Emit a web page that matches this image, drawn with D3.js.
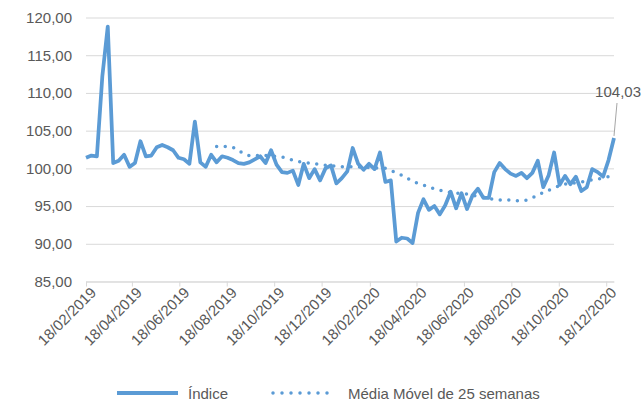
<!DOCTYPE html>
<html>
<head>
<meta charset="utf-8">
<script src="https://cdn.jsdelivr.net/npm/d3@7"></script>
<style>
  body { margin: 0; background: #fff; }
  text { font-family: "Liberation Sans", Arial, sans-serif; fill: #595959; }
</style>
</head>
<body>
<svg id="chart" width="643" height="402"></svg>
<script>
// weekly observations, first and last week
const firstWeek = '18/02/2019';
const lastWeek = '28/12/2020';

const indice = [
  101.4, 101.7, 101.6, 112.2, 118.8, 100.7, 101.0, 101.8, 100.2, 100.7,
  103.6, 101.6, 101.7, 102.8, 103.1, 102.8, 102.4, 101.4, 101.2, 100.6,
  106.2, 100.8, 100.2, 101.8, 100.8, 101.6, 101.4, 101.1, 100.7, 100.6,
  100.8, 101.2, 101.6, 100.7, 102.4, 100.5, 99.5, 99.4, 99.7, 97.8,
  100.6, 98.7, 99.9, 98.4, 100.0, 100.4, 98.0, 98.7, 99.6, 102.7,
  100.6, 99.8, 100.6, 99.9, 102.1, 98.2, 98.4, 90.3, 90.8, 90.7,
  90.1, 94.1, 95.9, 94.5, 95.0, 93.9, 95.1, 96.9, 94.7, 96.7,
  94.6, 96.4, 97.3, 96.1, 96.1, 99.5, 100.7, 99.9, 99.3, 99.0,
  99.4, 98.7, 99.4, 101.0, 97.5, 99.1, 102.1, 97.8, 99.0, 97.9,
  98.9, 97.0, 97.5, 99.9, 99.5, 98.9, 101.1, 104.03
];

// 25-week moving average, starts at week 25
const mediaMovel = [
  null, null, null, null, null, null, null, null, null, null,
  null, null, null, null, null, null, null, null, null, null,
  null, null, null, null, 102.9, 102.9, 102.9, 102.8, 102.4, 101.9,
  101.7, 101.7, 101.7, 101.7, 101.6, 101.6, 101.5, 101.3, 101.1, 100.9,
  100.8, 100.7, 100.6, 100.5, 100.4, 100.3, 100.3, 100.2, 100.2, 100.2,
  100.2, 100.1, 100.1, 100.1, 100.0, 100.0, 99.7, 99.4, 99.1, 98.7,
  98.3, 98.0, 97.8, 97.5, 97.3, 97.1, 97.0, 96.8, 96.7, 96.7,
  96.6, 96.4, 96.3, 96.2, 96.0, 95.9, 95.8, 95.8, 95.8, 95.7,
  95.7, 95.8, 96.1, 96.4, 96.8, 97.1, 97.4, 97.7, 97.9, 98.0,
  98.1, 98.2, 98.3, 98.5, 98.6, 98.7, 98.9, 99.0
];

const xTickLabels = [
  '18/02/2019', '18/04/2019', '18/06/2019', '18/08/2019', '18/10/2019', '18/12/2019',
  '18/02/2020', '18/04/2020', '18/06/2020', '18/08/2020', '18/10/2020', '18/12/2020'
];
const yTicks = [85, 90, 95, 100, 105, 110, 115, 120];

const parse = d3.timeParse('%d/%m/%Y');
const weeks = d3.timeDay.range(parse(firstWeek), d3.timeDay.offset(parse(lastWeek), 1), 7);

const ptBR = d3.formatLocale({ decimal: ',', thousands: '.', grouping: [3], currency: ['', ''] });
const fmt = ptBR.format('.2f');

const svg = d3.select('#chart');
const plotLeft = 86, plotRight = 614, plotTop = 17.5, plotBottom = 281.5;

const x = d3.scaleTime()
  .domain([parse(firstWeek), parse(lastWeek)])
  .range([plotLeft, plotRight]);
const y = d3.scaleLinear()
  .domain([85, 120])
  .range([plotBottom, plotTop]);

// horizontal grid
svg.append('g')
  .attr('transform', `translate(${plotLeft},0)`)
  .call(d3.axisRight(y).tickValues(yTicks).tickSize(plotRight - plotLeft).tickFormat(''))
  .call(g => g.select('.domain').remove())
  .call(g => g.selectAll('line').attr('stroke', '#d9d9d9').attr('stroke-width', 1));

// y labels
svg.append('g')
  .attr('transform', `translate(${plotLeft},0)`)
  .call(d3.axisLeft(y).tickValues(yTicks).tickSize(0).tickPadding(14).tickFormat(fmt))
  .call(g => g.select('.domain').remove())
  .call(g => g.selectAll('text').attr('font-size', 15).attr('fill', '#595959'));

// x axis
const xAxis = svg.append('g')
  .attr('transform', `translate(0,${plotBottom})`)
  .call(d3.axisBottom(x).tickValues(xTickLabels.map(parse)).tickSize(5).tickSizeOuter(0)
    .tickFormat(d3.timeFormat('%d/%m/%Y')));
xAxis.select('.domain').attr('stroke', '#d9d9d9');
xAxis.selectAll('line').attr('stroke', '#d9d9d9');
xAxis.selectAll('text')
  .attr('font-size', 15)
  .attr('fill', '#595959')
  .attr('text-anchor', 'end')
  .attr('transform', 'rotate(-45)')
  .attr('dx', '-1')
  .attr('dy', '8');

const line = d3.line()
  .defined(d => d[1] != null)
  .x(d => x(d[0]))
  .y(d => y(d[1]));

svg.append('path')
  .datum(weeks.map((w, i) => [w, indice[i]]))
  .attr('fill', 'none')
  .attr('stroke', '#5b9bd5')
  .attr('stroke-width', 3.75)
  .attr('stroke-linejoin', 'round')
  .attr('d', line);

svg.append('path')
  .datum(weeks.map((w, i) => [w, mediaMovel[i]]))
  .attr('fill', 'none')
  .attr('stroke', '#5b9bd5')
  .attr('stroke-width', 3.5)
  .attr('stroke-linecap', 'round')
  .attr('stroke-dasharray', '0 8.6')
  .attr('d', line);

// data label on the last point
const lastX = x(weeks[weeks.length - 1]);
const lastY = y(indice[indice.length - 1]);
svg.append('line')
  .attr('x1', lastX).attr('y1', lastY - 2)
  .attr('x2', lastX + 3).attr('y2', 103)
  .attr('stroke', '#a6a6a6').attr('stroke-width', 1);
svg.append('text')
  .attr('x', 641).attr('y', 97)
  .attr('text-anchor', 'end')
  .attr('font-size', 15)
  .attr('fill', '#7f7f7f')
  .text(fmt(indice[indice.length - 1]));

// legend
const legend = svg.append('g').attr('transform', 'translate(0,393)');
legend.append('line')
  .attr('x1', 117).attr('x2', 178)
  .attr('stroke', '#5b9bd5').attr('stroke-width', 4);
legend.append('text')
  .attr('x', 188).attr('y', 5.5).attr('font-size', 15)
  .text('Índice');
legend.append('line')
  .attr('x1', 273).attr('x2', 336)
  .attr('stroke', '#5b9bd5').attr('stroke-width', 3.5)
  .attr('stroke-linecap', 'round').attr('stroke-dasharray', '0 9');
legend.append('text')
  .attr('x', 348).attr('y', 5.5).attr('font-size', 15)
  .text('Média Móvel de 25 semanas');
</script>
</body>
</html>
